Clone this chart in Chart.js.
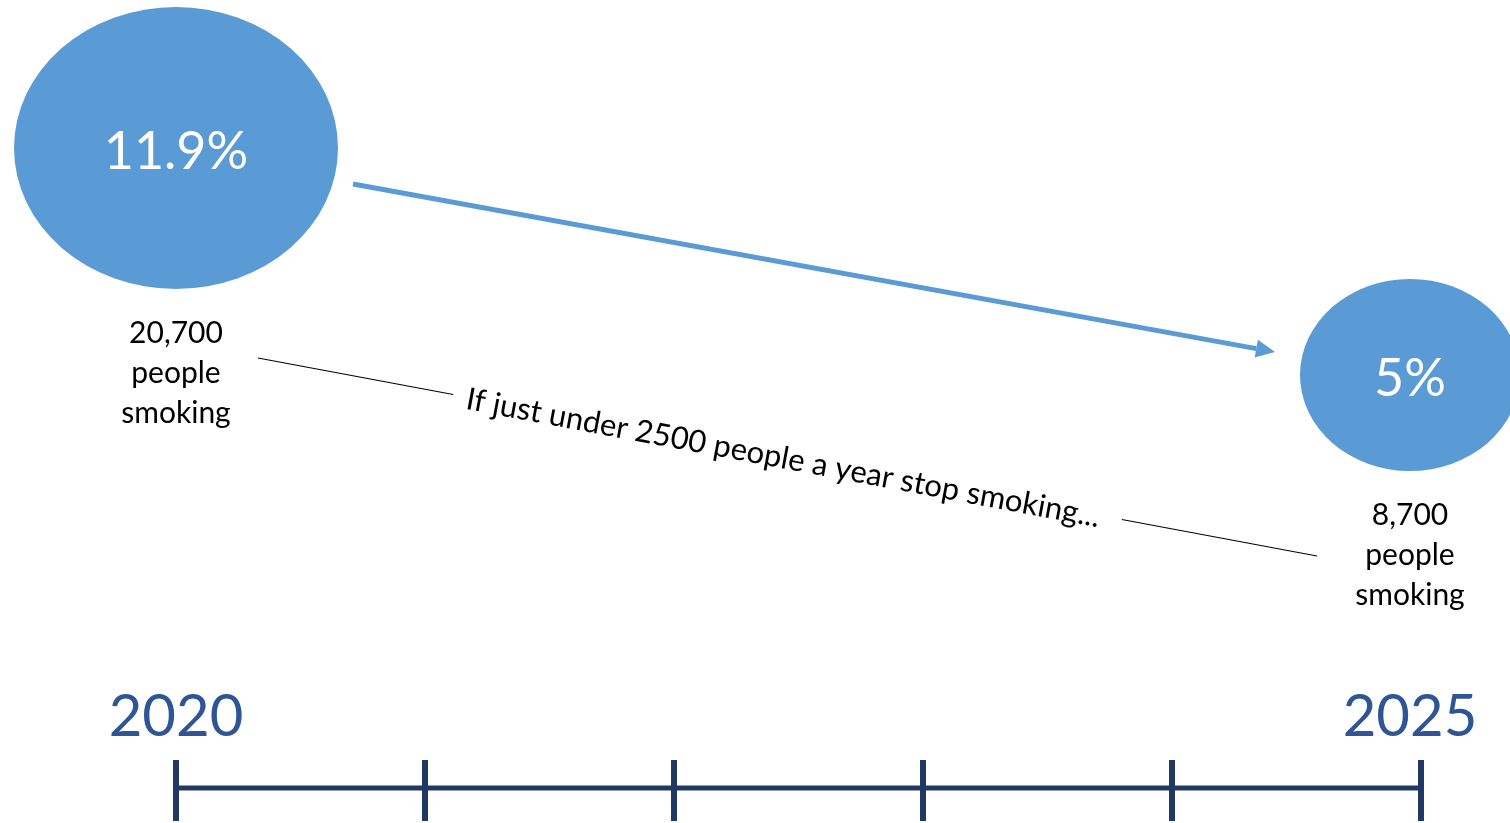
<!DOCTYPE html>
<html>
<head>
<meta charset="utf-8">
<title>Smoking prevalence 2020 - 2025</title>
<script src="https://cdn.jsdelivr.net/npm/chart.js@4"></script>
<style>
  html, body { margin: 0; padding: 0; background: #fff; overflow: hidden; }
  #wrap { position: relative; width: 1510px; height: 823px; }
</style>
</head>
<body>
<div id="wrap"><canvas id="chart"></canvas></div>
<script>
// Smoking prevalence now vs the 2025 target.
const years = [2020, 2025];
const rates = [11.9, 5];            // % of adults smoking
const smokers = [20700, 8700];      // people smoking
const timelineYears = [2020, 2021, 2022, 2023, 2024, 2025];
const message = "If just under 2500 people a year stop smoking...";

const BLUE = "#5B9BD5";
const NAVY = "#203864";
const YEAR_BLUE = "#2F5597";
const FONT = "Lato, 'Open Sans', sans-serif";

// half width / half height of each bubble (the picture uses squashed circles)
const bubbleSize = [{ rx: 162, ry: 141 }, { rx: 110, ry: 96 }];

function ellipseImage(rx, ry) {
  const c = document.createElement("canvas");
  c.width = rx * 2;
  c.height = ry * 2;
  const g = c.getContext("2d");
  g.fillStyle = BLUE;
  g.beginPath();
  g.ellipse(rx, ry, rx, ry, 0, 0, Math.PI * 2);
  g.fill();
  return c;
}

/* ---------------------- labels, arrow and timeline ---------------------- */

const overlay = {
  id: "overlay",
  afterDatasetsDraw(chart) {
    const { ctx, scales, chartArea } = chart;
    const pts = years.map((yr, i) => ({
      x: scales.x.getPixelForValue(yr),
      y: scales.y.getPixelForValue(rates[i]),
      ...bubbleSize[i]
    }));

    ctx.save();
    ctx.textAlign = "center";
    ctx.textBaseline = "middle";

    // percentage inside each bubble
    ctx.fillStyle = "#fff";
    ctx.font = `52px ${FONT}`;
    pts.forEach((p, i) => ctx.fillText(rates[i] + "%", p.x, p.y + 4));

    // "N people smoking" under each bubble
    ctx.fillStyle = "#000";
    ctx.font = `30px ${FONT}`;
    pts.forEach((p, i) => {
      const top = p.y + p.ry + 44;
      [smokers[i].toLocaleString("en-GB"), "people", "smoking"].forEach((t, k) => {
        ctx.fillText(t, p.x, top + k * 40);
      });
    });

    // blue arrow between the bubbles
    const a0 = { x: pts[0].x + pts[0].rx + 15, y: pts[0].y + 36 };
    const a1 = { x: pts[1].x - pts[1].rx - 25, y: pts[1].y - 23 };
    const ang = Math.atan2(a1.y - a0.y, a1.x - a0.x);
    const headLen = 19, headW = 9;
    ctx.strokeStyle = BLUE;
    ctx.fillStyle = BLUE;
    ctx.lineWidth = 5;
    ctx.beginPath();
    ctx.moveTo(a0.x, a0.y);
    ctx.lineTo(a1.x - Math.cos(ang) * headLen, a1.y - Math.sin(ang) * headLen);
    ctx.stroke();
    ctx.beginPath();
    ctx.moveTo(a1.x, a1.y);
    ctx.lineTo(a1.x - Math.cos(ang) * headLen - Math.sin(ang) * headW,
               a1.y - Math.sin(ang) * headLen + Math.cos(ang) * headW);
    ctx.lineTo(a1.x - Math.cos(ang) * headLen + Math.sin(ang) * headW,
               a1.y - Math.sin(ang) * headLen - Math.cos(ang) * headW);
    ctx.closePath();
    ctx.fill();

    // thin connector with the slanted message in the middle
    const b0 = { x: pts[0].x + 82, y: pts[0].y + 210 };
    const b1 = { x: pts[1].x - 93, y: pts[1].y + 181 };
    const mid = { x: (b0.x + b1.x) / 2, y: (b0.y + b1.y) / 2 };
    const slope = Math.atan2(b1.y - b0.y, b1.x - b0.x);
    const len = Math.hypot(b1.x - b0.x, b1.y - b0.y);
    ctx.translate(mid.x, mid.y);
    ctx.rotate(slope);
    ctx.font = `31px ${FONT}`;
    const gap = ctx.measureText(message).width / 2 + 18;
    ctx.strokeStyle = "#000";
    ctx.lineWidth = 1;
    ctx.beginPath();
    ctx.moveTo(-len / 2, 0);
    ctx.lineTo(-gap, 0);
    ctx.moveTo(gap, 0);
    ctx.lineTo(len / 2, 0);
    ctx.stroke();
    ctx.fillStyle = "#000";
    ctx.fillText(message, -4, 2);
    ctx.setTransform(1, 0, 0, 1, 0, 0);

    // year labels
    ctx.fillStyle = YEAR_BLUE;
    ctx.font = `58px ${FONT}`;
    years.forEach((yr) => ctx.fillText(String(yr), scales.x.getPixelForValue(yr), chartArea.bottom - 106));

    // timeline along the bottom
    const ty = chartArea.bottom - 35;
    ctx.strokeStyle = NAVY;
    ctx.lineWidth = 5;
    ctx.beginPath();
    ctx.moveTo(scales.xt.getPixelForValue(timelineYears[0]), ty);
    ctx.lineTo(scales.xt.getPixelForValue(timelineYears[timelineYears.length - 1]), ty);
    ctx.stroke();
    ctx.lineWidth = 6;
    timelineYears.forEach((yr) => {
      const tx = scales.xt.getPixelForValue(yr);
      ctx.beginPath();
      ctx.moveTo(tx, ty - 28);
      ctx.lineTo(tx, ty + 33);
      ctx.stroke();
    });
    ctx.restore();
  }
};

new Chart(document.getElementById("chart"), {
  type: "scatter",
  data: {
    datasets: [{
      data: years.map((yr, i) => ({ x: yr, y: rates[i] })),
      pointStyle: bubbleSize.map((s) => ellipseImage(s.rx, s.ry)),
      xAxisID: "x",
      yAxisID: "y"
    }]
  },
  options: {
    responsive: true,
    maintainAspectRatio: false,
    animation: false,
    events: [],
    layout: { padding: 0, autoPadding: false },
    plugins: { legend: { display: false }, tooltip: { enabled: false } },
    scales: {
      x: { type: "linear", min: 2019.2869, max: 2025.4052, display: false },
      xt: { type: "linear", axis: "x", min: 2019.2932, max: 2025.3575, display: false },
      y: { type: "linear", min: -8.6175, max: 16.3986, display: false }
    }
  },
  plugins: [overlay]
});
</script>
</body>
</html>
